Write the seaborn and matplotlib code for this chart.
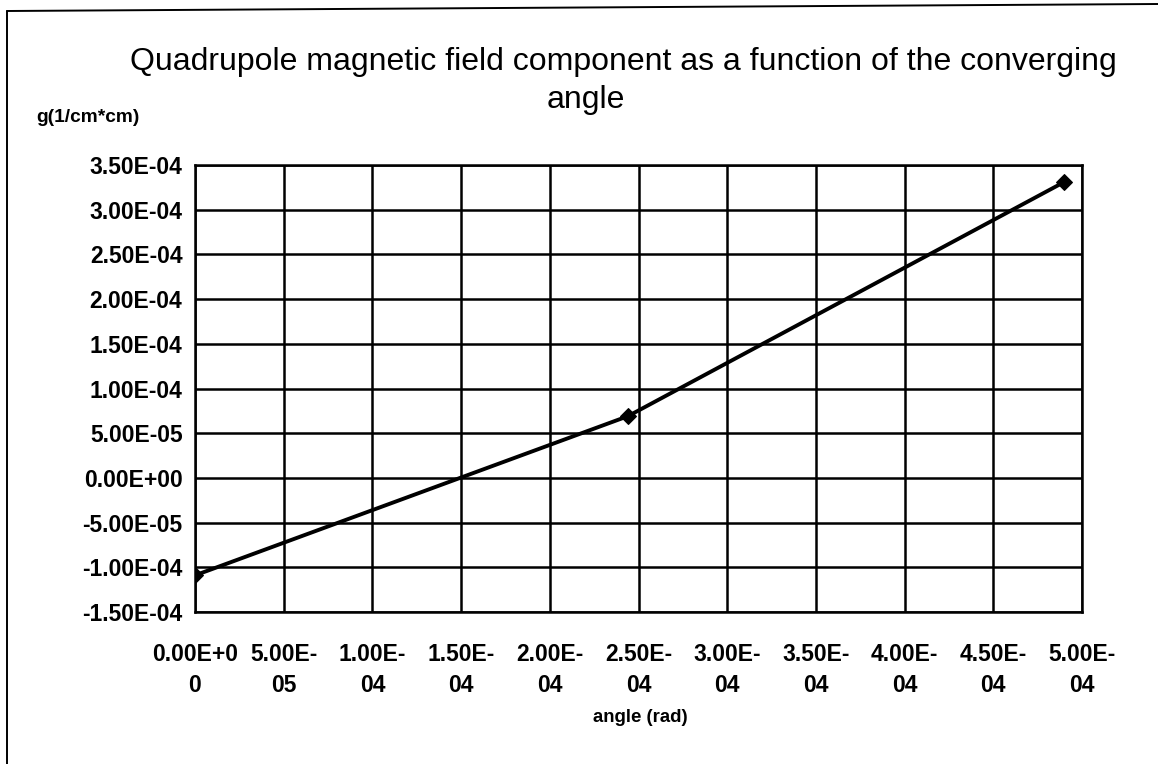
import matplotlib
matplotlib.use("Agg")
import matplotlib.pyplot as plt
from matplotlib.lines import Line2D
import seaborn as sns
import pandas as pd

# ---- data ----
angle_rad = [0.0, 2.44e-4, 4.90e-4]
g_values = [-1.09e-4, 6.9e-5, 3.31e-4]

x_ticks = [0.0, 0.5e-4, 1.0e-4, 1.5e-4, 2.0e-4, 2.5e-4, 3.0e-4, 3.5e-4, 4.0e-4, 4.5e-4, 5.0e-4]
x_tick_labels = ["0.00E+0\n0", "5.00E-\n05", "1.00E-\n04", "1.50E-\n04", "2.00E-\n04",
                 "2.50E-\n04", "3.00E-\n04", "3.50E-\n04", "4.00E-\n04", "4.50E-\n04", "5.00E-\n04"]
y_ticks = [-1.5e-4, -1.0e-4, -0.5e-4, 0.0, 0.5e-4, 1.0e-4, 1.5e-4, 2.0e-4, 2.5e-4, 3.0e-4, 3.5e-4]
y_tick_labels = ["-1.50E-04", "-1.00E-04", "-5.00E-05", "0.00E+00", "5.00E-05", "1.00E-04",
                 "1.50E-04", "2.00E-04", "2.50E-04", "3.00E-04", "3.50E-04"]

title_line1 = "Quadrupole magnetic field component as a function of the converging"
title_line2 = "angle"
y_label = "g(1/cm*cm)"
x_label = "angle (rad)"

sns.set_style("white")
plt.rcParams['font.family'] = ['Liberation Sans', 'DejaVu Sans']
plt.rcParams['text.color'] = 'black'

W, H = 1158, 764
fig = plt.figure(figsize=(W / 100, H / 100), dpi=100)
ax = fig.add_axes([195 / W, 1 - 612 / H, (1082 - 195) / W, (612 - 165) / H])

df = pd.DataFrame({"angle": angle_rad, "g": g_values})
sns.lineplot(data=df, x="angle", y="g", ax=ax, color="black", linewidth=2.8,
             marker="D", markersize=8, markeredgecolor="black", zorder=5)

ax.set_xlim(x_ticks[0], x_ticks[-1])
ax.set_ylim(y_ticks[0], y_ticks[-1])
ax.set_xticks(x_ticks)
ax.set_xticklabels(x_tick_labels, fontsize=16.5, fontweight="bold", linespacing=1.45)
ax.set_yticks(y_ticks)
ax.set_yticklabels(y_tick_labels, fontsize=16.5, fontweight="bold")
ax.tick_params(axis="x", direction="out", length=7, width=1.6, pad=15, colors="black")
ax.tick_params(axis="y", direction="out", length=7, width=1.6, pad=2, colors="black")
ax.set_xlabel("")
ax.set_ylabel("")
ax.grid(True, color="black", linewidth=1.8)
for s in ax.spines.values():
    s.set_visible(True)
    s.set_color("black")
    s.set_linewidth(1.8)

# titles and labels
fig.text(623 / W, 1 - 62 / H, title_line1, ha="center", va="center", fontsize=23, color="black")
fig.text(586 / W, 1 - 100 / H, title_line2, ha="center", va="center", fontsize=23, color="black")
fig.text(36 / W, 1 - 118 / H, y_label, ha="left", va="center", fontsize=13.8,
         fontweight="bold", color="black")
fig.text(640 / W, 1 - 718 / H, x_label, ha="center", va="center", fontsize=13.4,
         fontweight="bold", color="black")

# outer frame (top and left edges)
fig.add_artist(Line2D([7 / W, 1.0], [1 - 11 / H, 1 - 4 / H], transform=fig.transFigure,
                      color="black", linewidth=1.4))
fig.add_artist(Line2D([7 / W, 7 / W], [1 - 11 / H, 0.0], transform=fig.transFigure,
                      color="black", linewidth=1.4))

fig.savefig("out.png", dpi=100)
